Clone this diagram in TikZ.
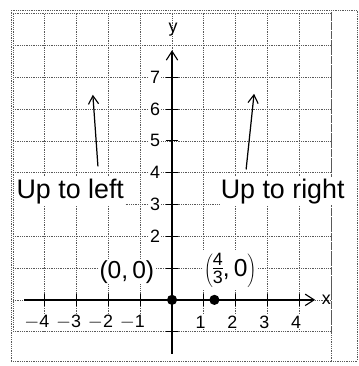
\documentclass[tikz,border=0pt]{standalone}
\usepackage{fontspec}
\setmainfont{Liberation Sans}
\usepackage{tikz}
\usetikzlibrary{arrows.meta,positioning}

\begin{document}
\begin{tikzpicture}[
        gridline/.style={densely dotted, draw=black!65, line width=0.6pt},
        axis/.style={draw=black, line width=1.3pt, -{Straight Barb[length=2.8mm,width=3.6mm,line width=1pt]}},
        tick/.style={draw=black, line width=1pt},
        arrow/.style={draw=black, line width=1.1pt, -{Straight Barb[length=2.6mm,width=3.2mm,line width=1pt]}},
        dot/.style={circle, fill=black, inner sep=0pt, minimum size=3.2mm},
        ticklabel/.style={font=\fontsize{16}{18}\selectfont, inner sep=1pt},
        note/.style={font=\fontsize{24}{28}\selectfont, fill=white, inner sep=1pt},
        pointlabel/.style={font=\fontsize{22}{26}\selectfont, fill=white, inner sep=1pt}
    ]
        \useasboundingbox (-5.41,-2.08) rectangle (5.85,9.43);

        % Grid paper
        \draw[gridline] (-5,-1) grid (5,9);
        \draw[gridline] (-5.05,-1.92) rectangle (5.82,9.12);
        \draw[gridline] (5,-1.92) -- (5,9.12);

        % Axes
        \coordinate (xstart) at (-4.65,0);
        \coordinate (xend) at (4.5,0);
        \coordinate (ystart) at (0,-1.7);
        \coordinate (yend) at (0,7.85);
        \draw[axis] (xstart) -- (xend);
        \draw[axis] (ystart) -- (yend);
        \node[ticklabel] (xlab) at (4.85,0) {x};
        \node[ticklabel] (ylab) at (0.03,8.5) {y};

        % Ticks
        \foreach \i in {-4,-3,-2,-1,1,2,3,4}
            \draw[tick] (\i,0.2) -- (\i,-0.2);
        \foreach \j in {-1,1,2,3,4,5,6,7}
            \draw[tick] (-0.2,\j) -- (0.2,\j);
        \foreach \i in {4,3,2,1}
            \node[ticklabel, fill=white] (xtm\i) at (-\i-0.25,-0.7) {$-$\i};
        \foreach \i in {1,2,3,4}
            \node[ticklabel, fill=white] (xt\i) at (\i-0.1,-0.7) {\i};
        \foreach \j in {2,3,4,5,6,7}
            \node[ticklabel, fill=white, left=1pt] (yt\j) at (-0.3,\j) {\j};

        % Nodes
        \node[dot] (origin) at (0,0) {};
        \node[dot] (root) at (4/3,0) {};
        \node[pointlabel] (originlab) at (-1.42,0.88) {(0,\,0)};
        \node[pointlabel] (rootlab) at (1.83,0.92) {$\left(\vcenter{\hbox{\fontsize{16}{17}\selectfont\begin{tabular}{@{}c@{}}4\\[-3pt]\hline\noalign{\vskip1pt}3\end{tabular}}}\mbox{,\,0}\right)$};
        \node[note] (upleft) at (-3.2,3.42) {Up to left};
        \node[note] (upright) at (3.48,3.42) {Up to right};

        % Edges
        \coordinate (lefttail) at (-2.33,4.2);
        \coordinate (lefthead) at (-2.49,6.45);
        \coordinate (righttail) at (2.33,4.1);
        \coordinate (righthead) at (2.58,6.48);
        \draw[arrow] (lefttail) -- (lefthead);
        \draw[arrow] (righttail) -- (righthead);
    \end{tikzpicture}
\end{document}
